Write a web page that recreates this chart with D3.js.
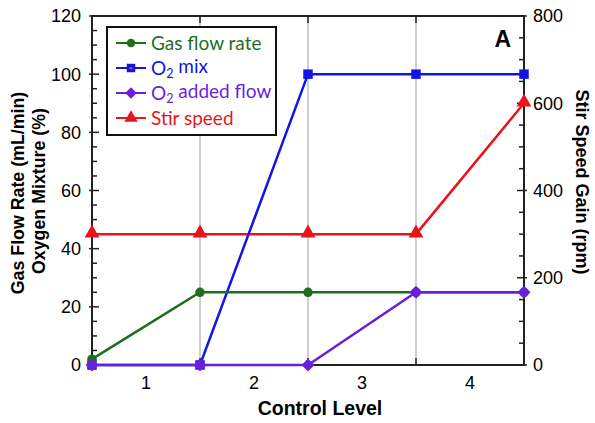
<!DOCTYPE html>
<html><head><meta charset="utf-8">
<script src="https://cdn.jsdelivr.net/npm/d3@7"></script>
<style>body{margin:0;background:#fff}svg{display:block}</style>
</head><body>
<script>
const levels = [0.5, 1.5, 2.5, 3.5, 4.5];
const gasFlow = [2, 25, 25, 25, 25];
const o2Mix = [0, 0, 100, 100, 100];
const o2Added = [0, 0, 0, 25, 25];
const stirSpeed = [300, 300, 300, 300, 600];
const xLabels = [1, 2, 3, 4];
const leftTicks = [0, 20, 40, 60, 80, 100, 120];
const rightTicks = [0, 200, 400, 600, 800];

const W = 595, H = 423;
const m = {l: 92, r: 524, t: 16, b: 365};
const svg = d3.select("body").append("svg").attr("width", W).attr("height", H);
const x = d3.scaleLinear().domain([0.5, 4.5]).range([m.l, m.r]);
const yL = d3.scaleLinear().domain([0, 120]).range([m.b, m.t]);
const yR = d3.scaleLinear().domain([0, 800]).range([m.b, m.t]);
const font = "Liberation Sans, Arial, sans-serif";

// grid lines
[1.5, 2.5, 3.5].forEach(v => {
  svg.append("line").attr("x1", x(v)).attr("x2", x(v)).attr("y1", m.t).attr("y2", m.b)
    .attr("stroke", "#cfcfcf").attr("stroke-width", 2);
  svg.append("line").attr("x1", x(v)).attr("x2", x(v)).attr("y1", m.b).attr("y2", m.b - 7).attr("stroke", "#222").attr("stroke-width", 1.5);
  svg.append("line").attr("x1", x(v)).attr("x2", x(v)).attr("y1", m.t).attr("y2", m.t + 7).attr("stroke", "#222").attr("stroke-width", 1.5);
});

// left axis ticks
d3.range(0, 121, 5).forEach(v => {
  const major = v % 20 === 0;
  svg.append("line").attr("x1", major ? m.l - 3 : m.l).attr("x2", m.l + (major ? 7 : 5))
    .attr("y1", yL(v)).attr("y2", yL(v)).attr("stroke", "#222").attr("stroke-width", 1.5);
});
leftTicks.forEach(v => {
  svg.append("text").attr("x", m.l - 11).attr("y", yL(v)).attr("dy", "0.36em")
    .attr("text-anchor", "end").attr("font-family", font).attr("font-size", 18).text(v);
});
// right axis ticks
d3.range(0, 801, 50).forEach(v => {
  const major = v % 200 === 0;
  svg.append("line").attr("x1", major ? m.r + 3 : m.r).attr("x2", m.r - (major ? 7 : 5))
    .attr("y1", yR(v)).attr("y2", yR(v)).attr("stroke", "#222").attr("stroke-width", 1.5);
});
rightTicks.forEach(v => {
  svg.append("text").attr("x", m.r + 9).attr("y", yR(v)).attr("dy", "0.36em")
    .attr("text-anchor", "start").attr("font-family", font).attr("font-size", 18).text(v);
});
xLabels.forEach(v => {
  svg.append("text").attr("x", x(v)).attr("y", m.b + 24).attr("text-anchor", "middle")
    .attr("font-family", font).attr("font-size", 18).text(v);
});

// frame
svg.append("rect").attr("x", m.l).attr("y", m.t).attr("width", m.r - m.l).attr("height", m.b - m.t)
  .attr("fill", "none").attr("stroke", "#222").attr("stroke-width", 2);

// axis titles
svg.append("text").attr("transform", `translate(24,193) rotate(-90)`).attr("text-anchor", "middle")
  .attr("font-family", font).attr("font-weight", "bold").attr("font-size", 17.8).text("Gas Flow Rate (mL/min)");
svg.append("text").attr("transform", `translate(45,191) rotate(-90)`).attr("text-anchor", "middle")
  .attr("font-family", font).attr("font-weight", "bold").attr("font-size", 17.8).text("Oxygen Mixture (%)");
svg.append("text").attr("transform", `translate(576,182) rotate(90)`).attr("text-anchor", "middle")
  .attr("font-family", font).attr("font-weight", "bold").attr("font-size", 18).text("Stir Speed Gain (rpm)");
svg.append("text").attr("x", 320).attr("y", 415).attr("text-anchor", "middle")
  .attr("font-family", font).attr("font-weight", "bold").attr("font-size", 19.5).text("Control Level");
svg.append("text").attr("x", 511).attr("y", 47).attr("text-anchor", "end")
  .attr("font-family", font).attr("font-weight", "bold").attr("font-size", 23).text("A");

const series = [
  {name: "Gas flow rate", vals: gasFlow, y: yL, color: "#1d6f1d", sym: d3.symbolCircle, size: 70, rot: 0},
  {name: "O2 mix", vals: o2Mix, y: yL, color: "#1414e6", sym: d3.symbolSquare, size: 90, rot: 0},
  {name: "O2 added flow", vals: o2Added, y: yL, color: "#6a1fdc", sym: d3.symbolSquare, size: 84, rot: 45},
  {name: "Stir speed", vals: stirSpeed, y: yR, color: "#e8141c", sym: d3.symbolTriangle, size: 95, rot: 0}
];
[series[3], series[1], series[0], series[2]].forEach(s => {
  const pts = levels.map((l, i) => [x(l), s.y(s.vals[i])]);
  svg.append("path").attr("d", d3.line()(pts)).attr("fill", "none").attr("stroke", s.color).attr("stroke-width", 2.5);
  svg.selectAll(null).data(pts).enter().append("path")
    .attr("transform", d => `translate(${d[0]},${d[1] + (s.sym === d3.symbolTriangle ? -1 : 0)}) rotate(${s.rot})`)
    .attr("d", d3.symbol().type(s.sym).size(s.size)).attr("fill", s.color);
});

// legend
const lg = svg.append("g");
lg.append("rect").attr("x", 107).attr("y", 27).attr("width", 169).attr("height", 108)
  .attr("fill", "#fff").attr("stroke", "#111").attr("stroke-width", 2);
const rows = [43, 68, 93, 118];
series.forEach((s, i) => {
  const yy = rows[i];
  lg.append("line").attr("x1", 116).attr("x2", 146).attr("y1", yy).attr("y2", yy).attr("stroke", s.color).attr("stroke-width", 2);
  lg.append("path").attr("transform", `translate(131,${yy}) rotate(${s.rot})`).attr("d", d3.symbol().type(s.sym).size(s.size * 0.8)).attr("fill", s.color);
  if (s.name === "O2 mix") lg.append("rect").attr("x", 129.5).attr("y", yy - 0.5).attr("width", 3).attr("height", 1.5).attr("fill", "#e06040");
  const t = lg.append("text").attr("x", 151).attr("y", yy).attr("dy", "0.35em")
    .attr("font-family", "Lato, sans-serif").attr("font-size", 19).attr("fill", s.color);
  if (s.name.startsWith("O2")) {
    t.append("tspan").text("O");
    t.append("tspan").attr("font-size", 12.5).attr("dy", "0.3em").text("2");
    t.append("tspan").attr("dy", "-0.3em").text(s.name.slice(2));
  } else t.text(s.name);
});
</script>
</body></html>
